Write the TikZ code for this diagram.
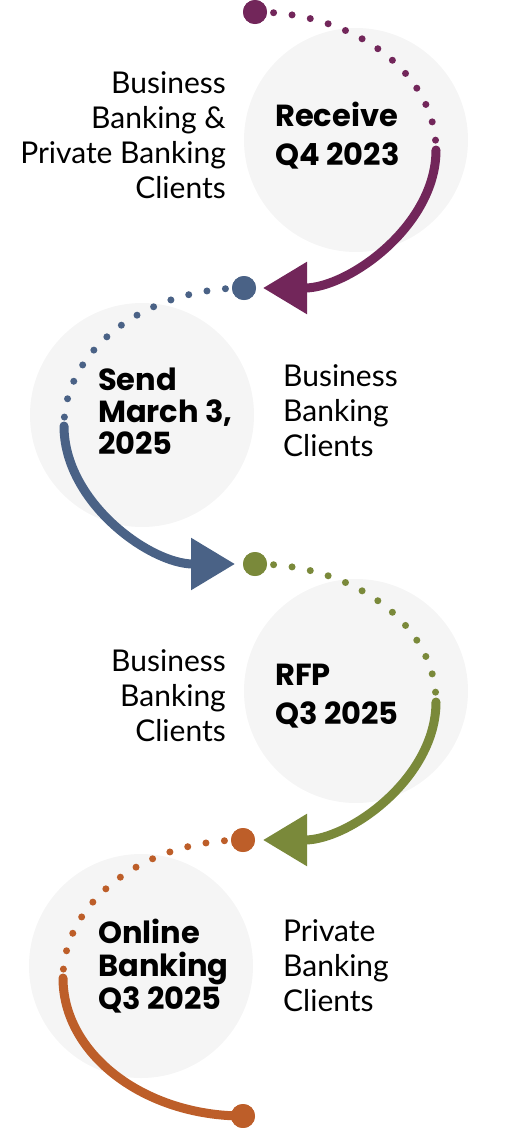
\documentclass[tikz,border=0pt]{standalone}
\usepackage{fontspec}
\setmainfont{Lato}
\newfontfamily\headfont{Poppins}
\usepackage{xcolor}
\usepackage{tikz}
\usetikzlibrary{positioning,arrows.meta}
\definecolor{stepplum}{RGB}{114,38,90}
\definecolor{stepslate}{RGB}{74,98,134}
\definecolor{stepolive}{RGB}{122,137,58}
\definecolor{steprust}{RGB}{189,94,41}
\definecolor{discgrey}{RGB}{245,245,245}

\begin{document}
\begin{tikzpicture}[
  x=1pt, y=1pt,
  every node/.style={font=\fontsize{30}{35}\selectfont},
  disc/.style={circle, fill=discgrey, minimum size=224pt, inner sep=0pt},
  milestone/.style={font=\headfont\fontsize{30.5}{39}\selectfont\bfseries, align=left, anchor=west, inner sep=0pt},
  audience/.style={align=#1, inner sep=0pt},
  bigdot/.style={circle, fill=#1, minimum size=24pt, inner sep=0pt},
  dots/.style={draw=#1, line width=7pt, line cap=round, dash pattern=on 0pt off 18.6pt},
  track/.style={draw=#1, line width=9pt, line cap=round}
]
  \useasboundingbox (0,0) rectangle (507,-1128);

  % grey backdrops
  \node[disc] (c1) at (356,-140) {};
  \node[disc] (c2) at (142,-415) {};
  \node[disc] (c3) at (356,-691) {};
  \node[disc] (c4) at (141,-966) {};

  % turning points of the path
  \coordinate (m1) at (436,-150);
  \coordinate (m2) at (64,-426);
  \coordinate (m3) at (436,-702);
  \coordinate (m4) at (63,-978);

  \node[bigdot=stepplum]  (d1) at (255,-12) {};
  \node[bigdot=stepslate] (d2) at (244,-288) {};
  \node[bigdot=stepolive] (d3) at (255,-564) {};
  \node[bigdot=steprust]  (d4) at (243,-840) {};
  \node[bigdot=steprust]  (d5) at (243,-1116) {};

  \path[dots=stepplum] (d1.center) .. controls +(100,0) and +(0,76) .. (m1);
  \path[track=stepplum, -{Triangle[length=44pt,width=50pt]}, shorten >=19pt]
    (m1) .. controls +(0,-76) and +(104,0) .. (d2.center);

  \path[dots=stepslate] (d2.center) .. controls +(-99,0) and +(0,76) .. (m2);
  \path[track=stepslate, -{Triangle[length=44pt,width=50pt]}, shorten >=20pt]
    (m2) .. controls +(0,-76) and +(-105,0) .. (d3.center);

  \path[dots=stepolive] (d3.center) .. controls +(100,0) and +(0,76) .. (m3);
  \path[track=stepolive, -{Triangle[length=44pt,width=50pt]}, shorten >=20pt]
    (m3) .. controls +(0,-76) and +(106,0) .. (d4.center);

  \path[dots=steprust] (d4.center) .. controls +(-99,0) and +(0,76) .. (m4);
  \path[track=steprust] (m4) .. controls +(0,-76) and +(-99,0) .. (d5.center);

  % redraw the dots on top
  \node[bigdot=stepplum]  at (d1) {};
  \node[bigdot=stepslate] at (d2) {};
  \node[bigdot=stepolive] at (d3) {};
  \node[bigdot=steprust]  at (d4) {};
  \node[bigdot=steprust]  at (d5) {};

  % milestone labels
  \node[milestone] (receive) at (275,-136) {Receive\\Q4 2023};
  \node[milestone, font=\headfont\fontsize{30.5}{32}\selectfont\bfseries] (send) at (98,-411) {Send\\March 3,\\2025};
  \node[milestone] (rfp) at (275,-696) {RFP\\Q3 2025};
  \node[milestone, font=\headfont\fontsize{30.5}{33}\selectfont\bfseries] (online) at (98,-966) {Online\\Banking\\Q3 2025};

  % who receives it
  \node[audience=right, anchor=east] (aud1) at (226,-135) {Business\\Banking \&\\Private Banking\\Clients};
  \node[audience=left, anchor=west] (aud2) at (283,-411) {Business\\Banking\\Clients};
  \node[audience=right, anchor=east] (aud3) at (226,-696) {Business\\Banking\\Clients};
  \node[audience=left, anchor=west] (aud4) at (283,-966) {Private\\Banking\\Clients};
\end{tikzpicture}
\end{document}
